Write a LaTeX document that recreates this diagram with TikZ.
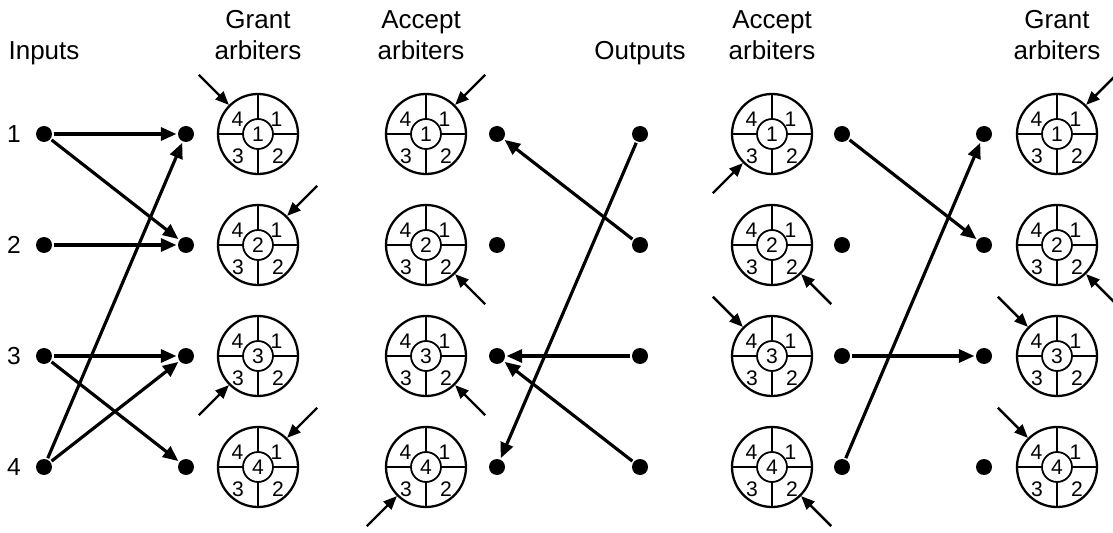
\documentclass[tikz,border=0pt]{standalone}
\usepackage{fontspec}
\setmainfont{Liberation Sans}
\usetikzlibrary{arrows.meta, positioning}

\begin{document}
\begin{tikzpicture}[
            on grid,
            node distance = 2.22cm and 2.84cm,
            >={Triangle[length=0.31cm,width=0.26cm]},
            line width=1.8pt
        ]

        \tikzstyle{dot}=[
            circle,
            fill,
            inner sep=0pt,
            minimum size=0.32cm
        ]
        \tikzstyle{title}=[
            align=center,
            anchor=base,
            font=\fontsize{14.8}{18.2}\selectfont
        ]
        \tikzstyle{port}=[
            font=\fontsize{14}{15}\selectfont
        ]
        \tikzstyle{ptr}=[
            -{Triangle[length=0.27cm,width=0.22cm]},
            line width=1.4pt
        ]
        % round-robin arbiter: four priority slots around its own number
        \tikzstyle{arbiter}=[
            circle,
            draw,
            line width=1.3pt,
            inner sep=0pt,
            minimum size=1.6cm,
            font=\fontsize{12}{12}\selectfont,
            path picture={
                \coordinate (c) at (path picture bounding box.center);
                \draw[line width=1pt] (c) circle (0.3cm);
                \draw[line width=1pt] (c) +(0.3,0) -- +(0.9,0) +(-0.3,0) -- +(-0.9,0)
                    +(0,0.3) -- +(0,0.9) +(0,-0.3) -- +(0,-0.9);
                \path[every node/.style={anchor=center, inner sep=0pt,
                        font=\fontsize{12}{12}\selectfont}]
                    (c) +(-0.41,0.29) node {4} +(0.37,0.29) node {1}
                        +(-0.40,-0.44) node {3} +(0.40,-0.44) node {2};
            }
        ]

        \useasboundingbox (0,0) rectangle (22.26,-10.66);

        % inputs and grant side
        \node[dot] (inp1) at (0.88,-2.68) {};
        \node[dot] (inp2) [below=of inp1] {};
        \node[dot] (inp3) [below=of inp2] {};
        \node[dot] (inp4) [below=of inp3] {};
        \node[dot] (gd1) [right=of inp1] {};
        \node[dot] (gd2) [below=of gd1] {};
        \node[dot] (gd3) [below=of gd2] {};
        \node[dot] (gd4) [below=of gd3] {};
        \node[arbiter] (ga1) [right=1.44cm of gd1] {1};
        \node[arbiter] (ga2) [below=of ga1] {2};
        \node[arbiter] (ga3) [below=of ga2] {3};
        \node[arbiter] (ga4) [below=of ga3] {4};

        % accept side and outputs
        \node[arbiter] (aa1) [right=3.36cm of ga1] {1};
        \node[arbiter] (aa2) [below=of aa1] {2};
        \node[arbiter] (aa3) [below=of aa2] {3};
        \node[arbiter] (aa4) [below=of aa3] {4};
        \node[dot] (ad1) [right=1.42cm of aa1] {};
        \node[dot] (ad2) [below=of ad1] {};
        \node[dot] (ad3) [below=of ad2] {};
        \node[dot] (ad4) [below=of ad3] {};
        \node[dot] (out1) [right=2.86cm of ad1] {};
        \node[dot] (out2) [below=of out1] {};
        \node[dot] (out3) [below=of out2] {};
        \node[dot] (out4) [below=of out3] {};

        % second iteration
        \node[arbiter] (ra1) [right=2.64cm of out1] {1};
        \node[arbiter] (ra2) [below=of ra1] {2};
        \node[arbiter] (ra3) [below=of ra2] {3};
        \node[arbiter] (ra4) [below=of ra3] {4};
        \node[dot] (rd1) [right=1.40cm of ra1] {};
        \node[dot] (rd2) [below=of rd1] {};
        \node[dot] (rd3) [below=of rd2] {};
        \node[dot] (rd4) [below=of rd3] {};
        \node[dot] (rgd1) [right=of rd1] {};
        \node[dot] (rgd2) [below=of rgd1] {};
        \node[dot] (rgd3) [below=of rgd2] {};
        \node[dot] (rgd4) [below=of rgd3] {};
        \node[arbiter] (rga1) [right=1.46cm of rgd1] {1};
        \node[arbiter] (rga2) [below=of rga1] {2};
        \node[arbiter] (rga3) [below=of rga2] {3};
        \node[arbiter] (rga4) [below=of rga3] {4};

        % headings and port numbers
        \node (tinp) [above=1.48cm of inp1, title] {Inputs};
        \node (tga) [above=1.48cm of ga1, title] {Grant\\arbiters};
        \node (taa) [above=1.48cm of aa1, xshift=-0.1cm, title] {Accept\\arbiters};
        \node (tout) [above=1.48cm of out1, title] {Outputs};
        \node (tra) [above=1.48cm of ra1, title] {Accept\\arbiters};
        \node (trga) [above=1.48cm of rga1, title] {Grant\\arbiters};
        \node[port] (p1) [left=0.6cm of inp1] {1};
        \node[port] (p2) [left=0.6cm of inp2] {2};
        \node[port] (p3) [left=0.6cm of inp3] {3};
        \node[port] (p4) [left=0.6cm of inp4] {4};

        % requests
        \path[->] (inp1) edge (gd1);
        \path[->] (inp1) edge (gd2);
        \path[->] (inp2) edge (gd2);
        \path[->] (inp3) edge (gd3);
        \path[->] (inp3) edge (gd4);
        \path[->] (inp4) edge (gd1);
        \path[->] (inp4) edge (gd3);

        % grants
        \path[->] (out1) edge (ad4);
        \path[->] (out2) edge (ad1);
        \path[->] (out3) edge (ad3);
        \path[->] (out4) edge (ad3);

        % requests again
        \path[->] (rd1) edge (rgd2);
        \path[->] (rd3) edge (rgd3);
        \path[->] (rd4) edge (rgd1);

        % priority pointers
        \draw[ptr] (ga1.135) ++(135:0.85) -- (ga1.135);
        \draw[ptr] (ga2.45) ++(45:0.85) -- (ga2.45);
        \draw[ptr] (ga3.225) ++(225:0.85) -- (ga3.225);
        \draw[ptr] (ga4.45) ++(45:0.85) -- (ga4.45);
        \draw[ptr] (aa1.45) ++(45:0.85) -- (aa1.45);
        \draw[ptr] (aa2.315) ++(315:0.85) -- (aa2.315);
        \draw[ptr] (aa3.315) ++(315:0.85) -- (aa3.315);
        \draw[ptr] (aa4.225) ++(225:0.85) -- (aa4.225);
        \draw[ptr] (ra1.225) ++(225:0.85) -- (ra1.225);
        \draw[ptr] (ra2.315) ++(315:0.85) -- (ra2.315);
        \draw[ptr] (ra3.135) ++(135:0.85) -- (ra3.135);
        \draw[ptr] (ra4.315) ++(315:0.85) -- (ra4.315);
        \draw[ptr] (rga1.45) ++(45:0.85) -- (rga1.45);
        \draw[ptr] (rga2.315) ++(315:0.85) -- (rga2.315);
        \draw[ptr] (rga3.135) ++(135:0.85) -- (rga3.135);
        \draw[ptr] (rga4.135) ++(135:0.85) -- (rga4.135);

\end{tikzpicture}
\end{document}
